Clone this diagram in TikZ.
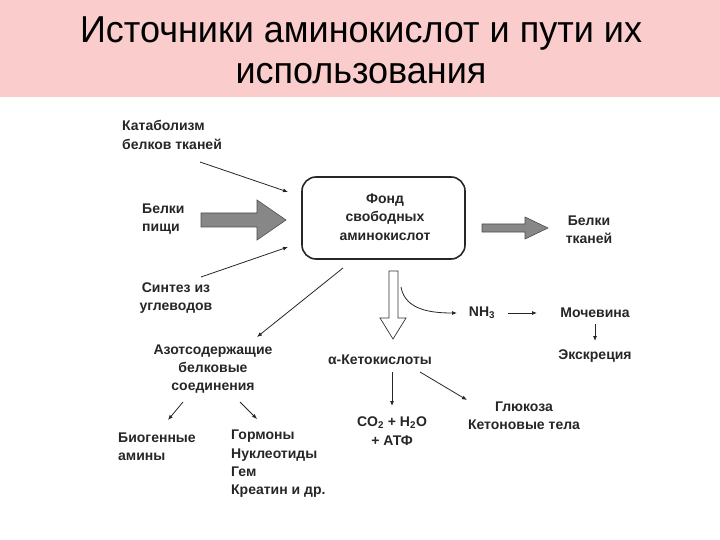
\documentclass[tikz,border=0pt]{standalone}
\usepackage{fontspec}
\setmainfont{Liberation Sans}
\usetikzlibrary{arrows.meta}
\definecolor{titlepink}{RGB}{250,204,204}
\definecolor{arrowgray}{RGB}{135,135,135}

\begin{document}
\begin{tikzpicture}[x=1pt,y=-1pt,
    txt/.style={font=\fontsize{14}{18.3}\selectfont\bfseries,inner sep=0pt,text=black!85},
    flow/.style={-{Latex[length=5pt,width=4pt]},line width=0.8pt,black!85},
    fat/.style={fill=arrowgray,draw=black!70,line width=0.6pt}]
  \useasboundingbox (0,0) rectangle (720,540);
  \fill[titlepink] (0,0) rectangle (720,97);
  \node[font=\fontsize{37.5}{40}\selectfont,anchor=base,inner sep=0pt] (title1) at (361,43)
    {\scalebox{0.96}[1]{Источники аминокислот и пути их}};
  \node[font=\fontsize{37.5}{40}\selectfont,anchor=base,inner sep=0pt] (title2) at (361,84)
    {\scalebox{0.96}[1]{использования}};

  % sources
  \node[txt,anchor=west,align=left] (catab) at (122,135) {Катаболизм\\белков тканей};
  \node[txt,anchor=west,align=left] (food) at (142,219) {Белки\\пищи};
  \node[txt,align=center] (synth) at (176,298) {Синтез из\\углеводов};
  \draw[rounded corners=14pt,line width=1.6pt,black!85] (302,177) rectangle (465,259);
  \node[txt,align=center] (pool) at (385,217) {Фонд\\свободных\\аминокислот};
  \coordinate (catabend) at (200,162);
  \coordinate (synthend) at (201,277);
  \draw[flow] (catabend) -- (288,192);
  \draw[flow] (synthend) -- (288,247);
  \draw[fat] (201,213) -- (257,213) -- (257,200) -- (286,220) -- (257,240) -- (257,227) -- (201,227) -- cycle;

  % uses
  \node[txt,align=center] (tissue) at (589,230) {Белки\\тканей};
  \draw[fat] (482,224) -- (525,224) -- (525,217) -- (548,228) -- (525,239) -- (525,232) -- (482,232) -- cycle;
  \draw[fill=white,draw=black!80,line width=0.7pt] (389,271) -- (398,271) -- (398,318) -- (406,318) -- (393,339) -- (380,318) -- (389,318) -- cycle;
  \node[txt] (keto) at (380,360) {α-Кетокислоты};
  \node[txt] (nh) at (482,313) {NH\textsubscript{3}};
  \node[txt] (urea) at (595,313) {Мочевина};
  \node[txt] (excr) at (595,356) {Экскреция};
  \node[txt,align=center] (co) at (392,431) {CO\textsubscript{2} + H\textsubscript{2}O\\+ АТФ};
  \node[txt,align=center] (gluc) at (524,416) {Глюкоза\\Кетоновые тела};
  \node[txt,align=center] (nitro) at (213,369) {Азотсодержащие\\белковые\\соединения};
  \node[txt,anchor=west,align=left] (amine) at (118,447) {Биогенные\\амины};
  \node[txt,anchor=north west,align=left] (horm) at (231,430) {Гормоны\\Нуклеотиды\\Гем\\Креатин и др.};

  \draw[flow] (401,287) to[out=-80,in=180] (457,313);
  \draw[flow] (508,313) -- (537,313);
  \draw[flow] (595,324) -- (595,341);
  \draw[flow] (392,372) -- (392,406);
  \draw[flow] (420,372) -- (467,400);
  \draw[flow] (343,268) -- (257,337);
  \draw[flow] (183,402) -- (168,420);
  \draw[flow] (240,402) -- (257,419);
\end{tikzpicture}
\end{document}
